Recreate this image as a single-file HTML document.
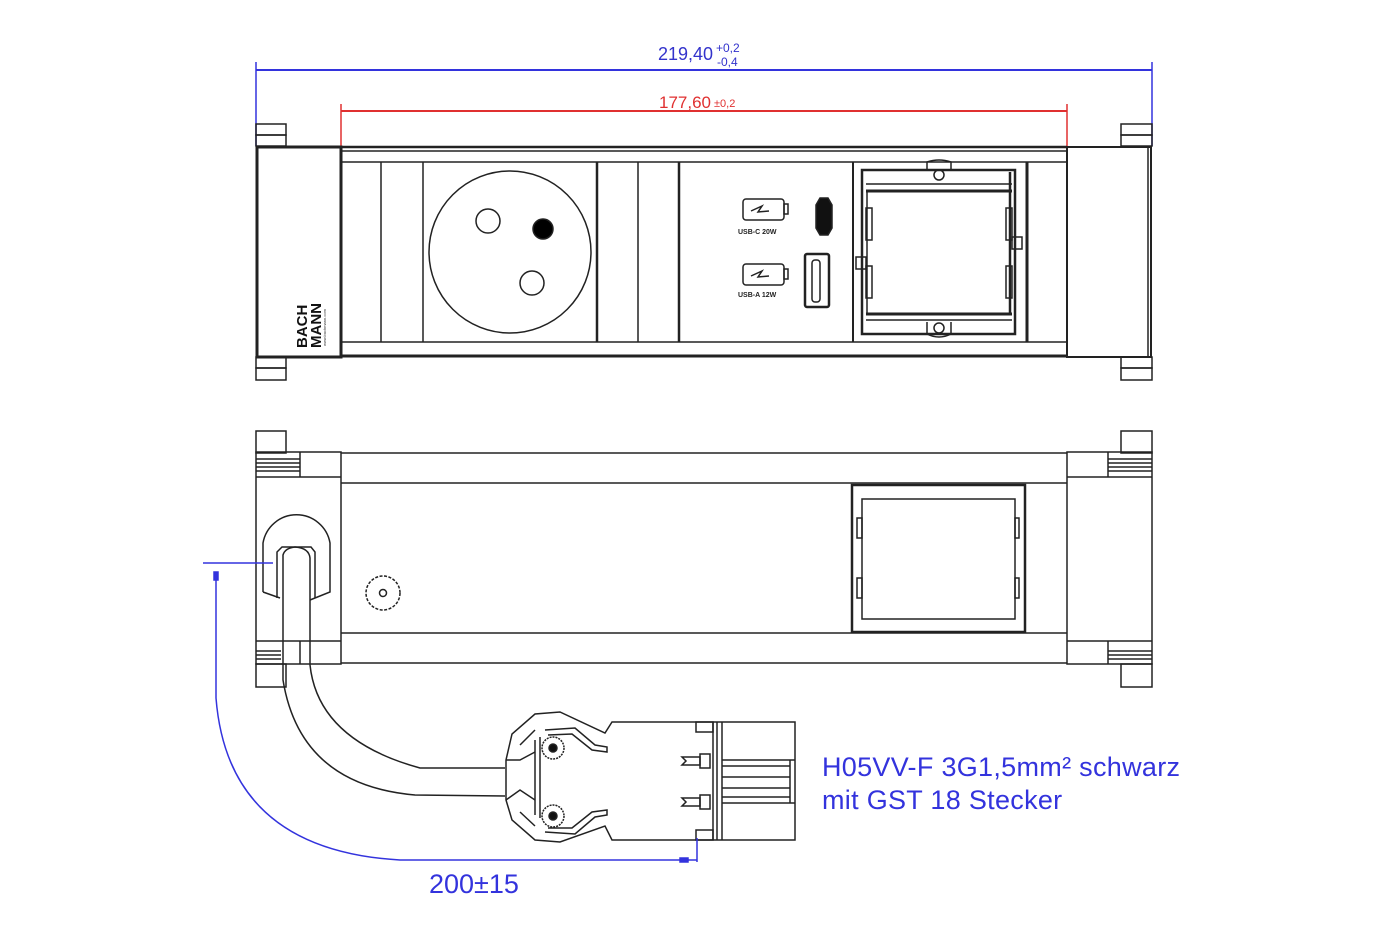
<!DOCTYPE html>
<html><head><meta charset="utf-8"><style>
html,body{margin:0;padding:0;background:#fff;}
svg{display:block;}
text{font-family:"Liberation Sans",Arial,sans-serif;}
</style></head><body>
<svg width="1400" height="934" viewBox="0 0 1400 934" xmlns="http://www.w3.org/2000/svg">
<g fill="none" stroke="#222" stroke-width="1.5">
<!-- TOP VIEW -->
<line x1="256" y1="62" x2="256" y2="146" stroke="#3333dd"/>
<line x1="1152" y1="62" x2="1152" y2="146" stroke="#3333dd"/>
<line x1="256" y1="70" x2="1152" y2="70" stroke="#3333dd" stroke-width="2"/>
<line x1="341" y1="104" x2="341" y2="146" stroke="#e03030"/>
<line x1="1067" y1="104" x2="1067" y2="146" stroke="#e03030"/>
<line x1="341" y1="111" x2="1067" y2="111" stroke="#e03030" stroke-width="2"/>
<rect x="256" y="124" width="30" height="11"/><rect x="256" y="135" width="30" height="11"/>
<rect x="256" y="357" width="30" height="11"/><rect x="256" y="368" width="30" height="12"/>
<rect x="1121" y="124" width="31" height="11"/><rect x="1121" y="135" width="31" height="11"/>
<rect x="1121" y="357" width="31" height="11"/><rect x="1121" y="368" width="31" height="12"/>
<rect x="257" y="147" width="84" height="210" stroke-width="3"/>
<rect x="1067" y="147" width="84" height="210" stroke-width="2"/>
<line x1="1148" y1="147" x2="1148" y2="357"/>
<line x1="341" y1="147" x2="1067" y2="147" stroke-width="2.5"/>
<line x1="341" y1="151" x2="1067" y2="151"/>
<line x1="341" y1="162" x2="1067" y2="162"/>
<line x1="341" y1="342" x2="1067" y2="342"/>
<line x1="341" y1="356" x2="1067" y2="356" stroke-width="3"/>
<line x1="381" y1="162" x2="381" y2="342"/>
<line x1="423" y1="162" x2="423" y2="342"/>
<line x1="597" y1="162" x2="597" y2="342" stroke-width="2.5"/>
<line x1="638" y1="162" x2="638" y2="342"/>
<line x1="679" y1="162" x2="679" y2="342" stroke-width="2.5"/>
<line x1="853" y1="162" x2="853" y2="342" stroke-width="2"/>
<line x1="1027" y1="162" x2="1027" y2="342" stroke-width="3"/>
<circle cx="510" cy="252" r="81"/>
<circle cx="488" cy="221" r="12"/>
<circle cx="543" cy="229" r="10" fill="#000"/>
<circle cx="532" cy="283" r="12"/>
<rect x="743" y="199" width="41" height="21" rx="3"/><rect x="784" y="204" width="4" height="10"/>
<path d="M751 211 L762 206 L758 212 L769 211"/>
<rect x="743" y="264" width="41" height="21" rx="3"/><rect x="784" y="269" width="4" height="10"/>
<path d="M751 276 L762 271 L758 277 L769 276"/>
<path d="M820 198 L828 198 L832 205 L832 228 L828 235 L820 235 L816 228 L816 205 Z" fill="#111"/>
<rect x="805" y="254" width="24" height="53" rx="2" stroke-width="2.5"/>
<rect x="812" y="260" width="8" height="42" rx="3"/>
<rect x="862" y="170" width="153" height="164" stroke-width="2.5"/>
<line x1="866" y1="184" x2="1012" y2="184"/>
<line x1="866" y1="191" x2="1012" y2="191" stroke-width="3"/>
<line x1="866" y1="314" x2="1012" y2="314" stroke-width="3"/>
<line x1="866" y1="320" x2="1012" y2="320"/>
<line x1="867" y1="191" x2="867" y2="314"/>
<line x1="1010" y1="172" x2="1010" y2="314" stroke-width="2.5"/>
<rect x="866" y="208" width="6" height="32"/><rect x="866" y="266" width="6" height="32"/>
<rect x="1006" y="208" width="6" height="32"/><rect x="1006" y="266" width="6" height="32"/>
<rect x="856" y="257" width="10" height="12"/><rect x="1012" y="237" width="10" height="12"/>
<path d="M927 171 L927 162 Q939 158 951 162 L951 171"/>
<circle cx="939" cy="175" r="5"/>
<path d="M927 322 L927 334 Q939 340 951 334 L951 322"/>
<circle cx="939" cy="328" r="5"/>

<!-- BOTTOM VIEW -->
<rect x="256" y="431" width="30" height="22"/>
<rect x="256" y="664" width="30" height="23"/>
<rect x="1121" y="431" width="31" height="22"/>
<rect x="1121" y="664" width="31" height="23"/>
<rect x="256" y="452" width="85" height="212"/>
<line x1="256" y1="477" x2="341" y2="477"/><line x1="300" y1="452" x2="300" y2="477"/>
<line x1="256" y1="641" x2="341" y2="641"/><line x1="300" y1="641" x2="300" y2="664"/>
<line x1="256" y1="459" x2="300" y2="459"/><line x1="256" y1="463" x2="300" y2="463"/><line x1="256" y1="467" x2="300" y2="467"/><line x1="256" y1="471" x2="300" y2="471"/>
<line x1="256" y1="651" x2="281" y2="651"/><line x1="256" y1="655" x2="281" y2="655"/><line x1="256" y1="659" x2="281" y2="659"/>
<rect x="1067" y="452" width="85" height="212"/>
<line x1="1067" y1="477" x2="1152" y2="477"/><line x1="1108" y1="452" x2="1108" y2="477"/>
<line x1="1067" y1="641" x2="1152" y2="641"/><line x1="1108" y1="641" x2="1108" y2="664"/>
<line x1="1108" y1="459" x2="1152" y2="459"/><line x1="1108" y1="463" x2="1152" y2="463"/><line x1="1108" y1="467" x2="1152" y2="467"/><line x1="1108" y1="471" x2="1152" y2="471"/>
<line x1="1108" y1="651" x2="1152" y2="651"/><line x1="1108" y1="655" x2="1152" y2="655"/><line x1="1108" y1="659" x2="1152" y2="659"/>
<line x1="341" y1="453" x2="1067" y2="453"/>
<line x1="341" y1="483" x2="1067" y2="483"/>
<line x1="341" y1="633" x2="1067" y2="633"/>
<line x1="341" y1="663" x2="1067" y2="663"/>
<rect x="852" y="485" width="173" height="147" stroke-width="2.5"/>
<rect x="862" y="499" width="153" height="120"/>
<rect x="857" y="518" width="5" height="20"/><rect x="857" y="578" width="5" height="20"/>
<rect x="1015" y="518" width="4" height="20"/><rect x="1015" y="578" width="4" height="20"/>
<circle cx="383" cy="593" r="17" stroke-dasharray="3 1.5"/>
<circle cx="383" cy="593" r="3.5"/>
<path d="M263 592 L263 543 A34 34 0 0 1 330 543 L330 592 L310 600" />
<path d="M263 592 L280 598"/>
<path d="M277 598 L277 552 L282 547 L311 547 L315 552 L315 598"/>
<path d="M283 598 L283 555 Q285 548 295 547 Q309 548 310 558 L310 665 Q318 740 420 768 L505 768"/>
<path d="M283 598 L283 680 Q300 785 415 795 L505 796"/>
<!-- connector -->
<path d="M506 760 L506 800 L512 820 L535 840 L560 842 L605 826 L612 840 L795 840 L795 722 L612 722 L605 733 L560 712 L535 714 L512 734 Z"/>
<line x1="535" y1="740" x2="535" y2="815"/>
<line x1="540" y1="737" x2="540" y2="818"/>
<path d="M506 760 L520 760 L535 752"/><path d="M506 800 L520 790 L535 800"/>
<path d="M520 745 L535 730"/><path d="M520 812 L535 826"/>
<circle cx="553" cy="748" r="11" stroke-dasharray="2 1"/><circle cx="553" cy="748" r="4" fill="#111"/>
<circle cx="553" cy="816" r="11" stroke-dasharray="2 1"/><circle cx="553" cy="816" r="4" fill="#111"/>
<path d="M545 730 L575 728 L595 745 L607 747 L607 752 L592 750 L572 734 L548 735"/>
<path d="M545 832 L575 834 L595 817 L607 815 L607 810 L592 812 L572 828 L548 828"/>
<rect x="696" y="722" width="17" height="10"/><rect x="696" y="830" width="17" height="10"/>
<line x1="713" y1="722" x2="713" y2="840"/><line x1="717" y1="722" x2="717" y2="840"/><line x1="722" y1="722" x2="722" y2="840"/>
<rect x="700" y="754" width="10" height="14"/><path d="M682 757 L700 757 L700 765 L682 765 L686 761 Z"/>
<rect x="700" y="795" width="10" height="14"/><path d="M682 798 L700 798 L700 806 L682 806 L686 802 Z"/>
<line x1="790" y1="760" x2="790" y2="803"/>
<line x1="722" y1="760" x2="795" y2="760"/><line x1="722" y1="803" x2="795" y2="803"/>
<line x1="722" y1="766" x2="790" y2="766"/><line x1="722" y1="777" x2="790" y2="777"/><line x1="722" y1="788" x2="790" y2="788"/><line x1="722" y1="797" x2="790" y2="797"/>
<g stroke="#3333dd">
<line x1="203" y1="563" x2="273" y2="563"/>
<path d="M216 575 L216 698 Q228 850 400 860 L697 860"/>
<line x1="697" y1="838" x2="697" y2="862"/>
<rect x="214" y="572" width="4" height="8" fill="#3333dd"/>
<rect x="680" y="858" width="8" height="4" fill="#3333dd"/>
</g>
</g>
<text x="658" y="60" font-size="18" fill="#3333cc">219,40</text>
<text x="716" y="52" font-size="12" fill="#3333cc">+0,2</text>
<text x="717" y="66" font-size="12" fill="#3333cc">-0,4</text>
<text x="659" y="108" font-size="17" fill="#e03030">177,60</text>
<text x="714" y="107" font-size="11" fill="#e03030">±0,2</text>
<text transform="translate(307,348) rotate(-90)" font-size="15" font-weight="bold" fill="#111">BACH</text>
<text transform="translate(321,348) rotate(-90)" font-size="15" font-weight="bold" fill="#111">MANN</text>
<text transform="translate(326,346) rotate(-90)" font-size="4" fill="#333">www.bachmann.com</text>
<text x="738" y="234" font-size="7" font-weight="bold" fill="#222">USB-C 20W</text>
<text x="738" y="297" font-size="7" font-weight="bold" fill="#222">USB-A 12W</text>
<text x="429" y="893" font-size="27" fill="#3333dd">200±15</text>
<text x="822" y="776" font-size="27" letter-spacing="0.3" fill="#3333dd">H05VV-F 3G1,5mm² schwarz</text>
<text x="822" y="809" font-size="27" letter-spacing="0.3" fill="#3333dd">mit GST 18 Stecker</text>
</svg>
</body></html>
